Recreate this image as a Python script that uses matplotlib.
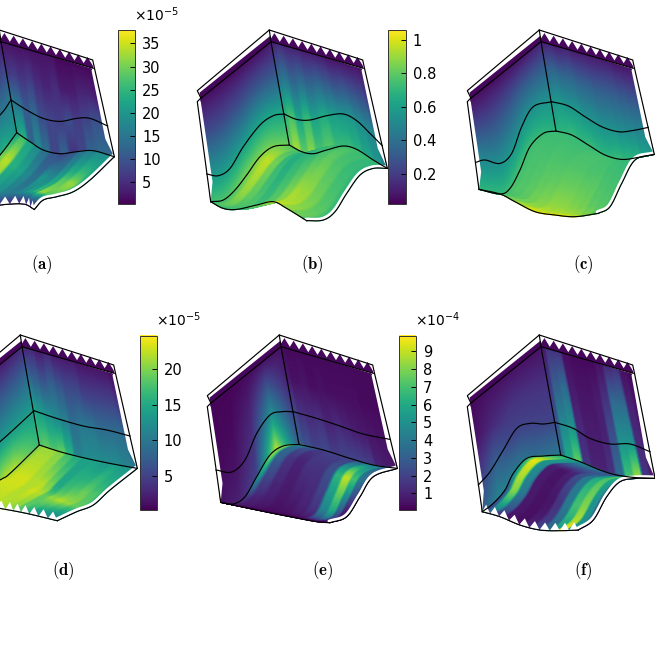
import numpy as np
import matplotlib
matplotlib.use("Agg")
from matplotlib import pyplot as plt
from matplotlib.cm import ScalarMappable
from matplotlib.colors import Normalize

# Section curves of each panel (pixels from the inner top corner)
# low = bottom surface edges, up = interface line, fa/fb = front edges
a_low_l = [(-60.3,165),(-30,145),(-1,113.3),(15.7,91)]
a_low_r = [(15.7,91),(29,100),(42.3,108.3),(59,112),(75.7,110),(92.3,109),(113.3,115)]
a_up_l = [(-64,130),(-30,100),(-1,73.3),(10,58.3)]
a_up_r = [(10,58.3),(25.7,68.3),(42.3,76.7),(59,79.7),(75.7,76.7),(89,76.7),(106.7,84.3)]
a_fa = [(-60.3,165),(-30,168),(-1,163.3),(22.3,162.3),(33.3,167.7)]
a_fb = [(33.3,167.7),(42.3,158.3),(55.7,155),(72.3,150),(89,138.3),(113.3,115)]

b_low_l = [(-60.3,160),(-47.7,158.3),(-36,148.3),(-24.3,133.3),(-11,115),(2.3,105),(18.3,103.3)]
b_low_r = [(18.3,103.3),(30.7,110),(42.3,112),(55.7,108.3),(72.3,104.3),(85.7,107.7),(102.3,118.3),(116.3,126.7)]
b_up_l = [(-64.3,132.3),(-52.7,134),(-41,126.7),(-27.7,105),(-11,83.3),(2.3,74),(13,72.3)]
b_up_r = [(13,72.3),(25.7,77.7),(39,78.3),(55.7,74),(72.3,72.3),(85.7,79),(99,91.7),(111.3,104)]
b_fa = [(-60.3,160),(-47.7,166.7),(-34.3,167.7),(-14.3,163.3),(2.3,160),(15.7,166.7),(35.7,179)]
b_fb = [(35.7,179),(52.3,178.3),(64,170),(75.7,151.7),(89,133.3),(102.3,126.7),(116.3,126.7)]

c_low_l = [(-62,147.7),(-41,152.3),(-31,146.7),(-21,128.3),(-11,105),(2.3,91.7),(15,89.3)]
c_low_r = [(15,89.3),(30.7,93.3),(47.3,103.3),(64,113.3),(80.7,117.7),(97.3,115.7),(113.3,112.7)]
c_up_l = [(-65.3,120.7),(-56,118.3),(-41,121.7),(-29.3,111.7),(-19.3,85),(-7.7,65),(10.7,60)]
c_up_r = [(10.7,60),(27.3,64.3),(44,75),(60.7,85),(77.3,90),(90.7,89),(107.3,85.7)]
c_fa = [(-62,147.7),(-41,152.3),(-26,160),(-6,170),(14,173.3),(34,175),(57.3,171.7)]
c_fb = [(57.3,171.7),(69,165),(80.7,141.7),(94,118.3),(113.3,112.7)]

d_low_l = [(-60,155),(-22,133.3),(-12,126.7),(17.3,98.3)]
d_low_r = [(17.3,98.3),(38,105),(61.3,111),(88,116.7),(115.3,121.7)]
d_up_l = [(-64,130),(-22,95),(12,64)]
d_up_r = [(12,64),(34.7,71.7),(61.3,79.3),(84.7,83.3),(108,89.3)]
d_fa = [(-60,155),(-22,161.7),(4.7,166.7),(35.3,174)]
d_fb = [(35.3,174),(54.7,165),(71.3,158.3),(88,143.3),(115.3,121.7)]

e_low_l = [(-60.3,155.7),(-47.7,157.3),(-36,150),(-24.3,130),(-11,108.3),(2.3,99.3),(18,97.7)]
e_low_r = [(18,97.7),(42.3,103.3),(69,111.7),(92.3,118.3),(116.3,121.7)]
e_up_l = [(-65,123.3),(-49.3,125.3),(-36,113.3),(-24.3,86.7),(-11,68.3),(0.7,65),(12.3,65)]
e_up_r = [(12.3,65),(35.7,71.7),(59,79.3),(82.3,87.3),(109,92.7)]
e_fa = [(-60.3,155.7),(-24.3,163.3),(9,170),(35.7,175),(49,176)]
e_fb = [(49,176),(65.7,170),(79,150),(92.3,130),(116.3,121.7)]

f_low_l = [(-58.7,165),(-47.7,156.7),(-36,143.3),(-27.7,126.7),(-14.3,111.7),(2.3,109.3),(19.7,108.3)]
f_low_r = [(19.7,108.3),(39,115),(59,123.3),(75.7,128.3),(95.7,131),(114,131.7)]
f_up_l = [(-62.7,138.3),(-51,125),(-37.7,103.3),(-24.3,81.7),(-11,76.7),(2.3,77.3),(14,75.7)]
f_up_r = [(14,75.7),(32.3,81.7),(49,91.7),(69,97.3),(89,97.3),(109,105)]
f_fa = [(-58.7,165),(-41,170),(-21,178.3),(-1,183.3),(19,184),(37.3,183.3)]
f_fb = [(37.3,183.3),(52.3,173.3),(65.7,150),(79,135),(95.7,131.7),(114,131.7)]

# Field values, rows go top to bottom on the walls and back to front on the floor
a_left = [[1.5,1.5,1.5,2,2.5],[3,4,5,7,9],[8,10,13,15,16],[14,18,22,24,20]]
a_right = [[2,2,2,2,2,2,2,1,1,1,1,1],[6,7,6,7,5,4,5,3,3,4,4,3],
           [16,15,11,13,9,8,7,9,7,8,10,10],[22,24,12,18,14,8,12,6,8,12,13,13]]
a_floor = [[22,26,22,18,14,10,8,10,14,16,18,20],[30,34,24,22,18,14,20,18,22,28,32,24],
           [24,30,20,18,16,16,18,22,26,32,28,18],[14,14,10,10,8,7,5,4,4,4,4,4]]

b_left = [[.05,.05,.05,.06,.08],[.25,.25,.27,.3,.32],[.5,.52,.55,.6,.62],[.75,.78,.85,.85,.82]]
b_right = [[.1,.14,.12,.12,.1,.1,.1,.08,.08,.08,.08,.07],[.38,.42,.36,.4,.36,.38,.34,.3,.32,.3,.28,.22],
           [.68,.74,.62,.72,.62,.66,.6,.58,.58,.54,.5,.4],[.82,.92,.8,.88,.76,.8,.72,.72,.68,.62,.56,.46]]
b_floor = [[.82,.76,.72,.66,.68,.66,.7,.72,.74,.72,.7,.68],[.9,.96,.84,.72,.66,.7,.72,.76,.8,.76,.72,.7],
           [.8,.88,.8,.76,.72,.78,.86,.92,.9,.84,.78,.72],[.72,.76,.72,.78,.74,.8,.86,.94,.96,.9,.84,.76]]

c_left = [[.05,.05,.06,.08,.12],[.25,.27,.3,.33,.36],[.5,.5,.52,.55,.56],[.7,.72,.75,.72,.68]]
c_right = [[.1,.12,.1,.12,.1,.1,.1,.1,.1,.08,.08,.08],[.36,.38,.36,.37,.35,.35,.33,.33,.32,.3,.28,.26],
           [.56,.58,.56,.57,.54,.54,.52,.52,.5,.48,.46,.44],[.68,.7,.72,.7,.72,.7,.7,.72,.7,.68,.62,.58]]
c_floor = [[.7,.72,.72,.72,.72,.74,.74,.74,.72,.7,.68,.66],[.74,.75,.75,.76,.76,.77,.77,.76,.76,.74,.73,.72],
           [.76,.78,.8,.83,.85,.88,.88,.86,.84,.8,.78,.76],[.72,.74,.78,.84,.92,1.0,1.03,1.03,1.0,.95,.85,.78]]

d_left = [[1,1,1.5,2,3],[6,7,7,8,9],[12,13,13,14,14],[18,20,22,22,17]]
d_right = [[2.5,3,2,3,2,2,2,1.5,1.5,1.5,1.5,1],[9,8,7,8,7,6,6,5,5,5,5,4],
           [15,14,13,12,11,9,10,10,9,9,9,8],[18,19,18,19,16,11,12,12,12,12,11,10]]
d_floor = [[20,21,21,20,17,15,14,14,13,14,13,13],[22,23,23,22,22,20,15,17,18,19,18,16],
           [23,23,23,22,23,22,19,21,22,21,19,15],[22,22,22,22,21,20,18,15,12,11,11,12]]

e_left = [[.2,.2,.3,.5,.5],[.2,.3,1,3,1],[.3,.5,1.5,5.5,2],[.5,1,2,9,3]]
e_right = [[.3,.3,.3,.3,.3,.3,.3,.3,.3,.3,.3,.3],[.8,.5,.6,.4,.5,.4,.4,.4,.4,.3,.3,.3],
           [2.2,1.5,1.3,1.4,1,1.2,1,.8,.7,.6,.5,.4],[3,2.5,2,2.2,1.8,2,2,2,1.8,1,.8,.6]]
e_floor = [[8,4,3,2,2,2,2,3,4,4,3,2],[8,3,1.5,1,1.5,1.5,2.5,6.5,9,7,4,2],
           [1.5,1,.8,.6,.7,1,1.5,4.5,6,3,1,.5],[.3,.3,.2,.2,.2,.2,.2,.3,.3,.3,.2,.2]]

f_left = [[.3,.5,.5,.5,.5],[.5,1.2,1.5,1.5,1.5],[1.5,3,2.2,2,2],[3,4.5,4,3.5,4]]
f_right = [[.7,1.5,1.5,.4,.3,.3,.3,.5,1.2,1.5,.5,.3],[1.5,3,3.5,.8,.6,.6,.8,1.5,3.5,3.5,1,.6],
           [2.5,4.5,5,1.2,.8,.8,1,2.5,5,5,1.2,.7],[3.5,6,7.5,1.5,1,1,1.5,3.5,7,8.5,1.5,.8]]
f_floor = [[6,6,5.5,5,4.5,4,3,2.5,4,8,9,7],[7,9.5,5,.8,.6,1,2.5,4,6,7,6,3],
           [3,8,4,.7,.5,.6,1.5,4,7,8,5,2],[2,3,1.5,.6,.4,1,2,3,5,9.8,5,2]]

# Colour bars
a_range = (0.16, 37.9)
a_ticks = [5, 10, 15, 20, 25, 30, 35]
b_range = (0.016, 1.06)
b_ticks = [0.2, 0.4, 0.6, 0.8, 1]
b_ticklabels = ["0.2", "0.4", "0.6", "0.8", "1"]
d_range = (0.16, 24.8)
d_ticks = [5, 10, 15, 20]
e_range = (0.06, 9.9)
e_ticks = [1, 2, 3, 4, 5, 6, 7, 8, 9]


def smooth(pts, n=80):
    # catmull-rom through the read points
    p = np.array(pts, dtype=float)
    p = np.vstack([2*p[0]-p[1], p, 2*p[-1]-p[-2]])
    t = np.linspace(0, len(p)-3, n)
    i = np.minimum(t.astype(int), len(p)-4)
    s = (t-i)[:, None]
    p0, p1, p2, p3 = p[i], p[i+1], p[i+2], p[i+3]
    return 0.5*(2*p1 + (p2-p0)*s + (2*p0-5*p1+4*p2-p3)*s**2 + (3*p1-p0-3*p2+p3)*s**3)


def upsample(grid, nu, nv, step):
    # take the coarse grid to the drawing mesh, stripes keep a soft edge when step is set
    g = np.array(grid, dtype=float)
    nr, nc = g.shape
    u = np.linspace(0, 1, nu)
    v = np.linspace(0, 1, nv)
    cols = np.linspace(0, 1, nc)
    rows = np.linspace(0, 1, nr)
    if step:
        x = u*(nc-1)
        k = np.floor(x)
        f = np.clip((x-k-0.5)/0.3+0.5, 0, 1)
        su = (k+f)/(nc-1)
    else:
        su = u
    out = np.empty((nv, nu))
    tmp = np.array([np.interp(su, cols, g[r]) for r in range(nr)])
    for j in range(nu):
        out[:, j] = np.interp(v, rows, tmp[:, j])
    return out


def ruled(top, bottom):
    v = np.linspace(0, 1, 50)[:, None, None]
    return (1-v)*top[None, :, :] + v*bottom[None, :, :]


def coons(back, front, side0, side1):
    # back and front run along u, side0 and side1 along v
    nu = len(back)
    nv = len(side0)
    u = np.linspace(0, 1, nu)[None, :, None]
    v = np.linspace(0, 1, nv)[:, None, None]
    s = (1-v)*back[None, :, :] + v*front[None, :, :]
    s = s + (1-u)*side0[:, None, :] + u*side1[:, None, :]
    s = s - ((1-u)*(1-v)*back[0] + u*(1-v)*back[-1] + (1-u)*v*front[0] + u*v*front[-1])
    return s


def draw_panel(ax, org, low_l, low_r, up_l, up_r, fa, fb, left, right, floor, rng, teeth):
    org = np.array(org, dtype=float)
    kw = dict(cmap="viridis", vmin=rng[0], vmax=rng[1], shading="gouraud", rasterized=True)
    I = np.array([0.0, 0.0])
    tl = np.array([-70.3, 56.6])
    tr = np.array([90.5, 27.5])
    s_low_l, s_low_r = smooth(low_l), smooth(low_r)
    s_up_l, s_up_r = smooth(up_l), smooth(up_r)
    s_fa, s_fb = smooth(fa), smooth(fb)
    s = np.linspace(0, 1, 80)[:, None]

    # purple band over the left wall and teeth over the right wall
    dark = plt.get_cmap("viridis")(0.02)
    ax.fill(*(org + np.array([tl, I, (-0.5, -6), (-71.5, 51)])).T, color=dark, lw=0)
    nt = 10
    w = np.linspace(0, 1, 2*nt+1)[:, None]
    zig = I + w*(np.array([92.3, 26.6]) - I) + np.array([-0.4, -2.5])
    zig[1::2] += np.array([-0.8, -7.5])
    zig = np.vstack([I, zig, (92.3, 26.6)])
    ax.fill(*(org + zig).T, color=dark, lw=0)

    # walls
    P = ruled(tl + s*(I-tl), s_low_l) + org
    ax.pcolormesh(P[..., 0], P[..., 1], upsample(left, 80, 50, False), **kw)
    P = ruled(I + s*(tr-I), s_low_r) + org
    ax.pcolormesh(P[..., 0], P[..., 1], upsample(right, 80, 50, True), **kw)
    # floor
    P = coons(s_low_r, s_fa, s_low_l[::-1], s_fb[::-1]) + org
    ax.pcolormesh(P[..., 0], P[..., 1], upsample(floor, 80, 80, True), **kw)

    if teeth:
        k = np.linspace(0, len(s_fa)-1, 2*teeth+1).astype(int)
        for j in range(teeth):
            p0, p1 = s_fa[k[2*j]], s_fa[k[2*j+2]]
            tip = s_fa[k[2*j+1]] + np.array([0.5, -8.0])
            ax.fill(*(org + np.array([p0, tip, p1])).T, color="white", lw=0, zorder=3)

    # white gaps inside the frame, wedges that run out at the corners
    ln = dict(color="white", lw=2.2, zorder=3, solid_capstyle="round")
    ax.plot(*(org + s_fb + np.array([-1.0, -1.5])).T, **ln)
    t = s_low_r[-1]
    bl = s_low_l[0]
    fr = np.array([93.5, 26.6])
    fl = np.array([-73.7, 60.0])
    wedge = np.array([fr, t, fr + 0.8*(t-fr) + (-5, 0), fr + (-3, 2)])
    ax.fill(*(org + wedge).T, color="white", lw=0, zorder=3)
    wedge = np.array([fl, bl, fl + 0.8*(bl-fl) + (4.5, 0), fl + (3.5, 0)])
    ax.fill(*(org + wedge).T, color="white", lw=0, zorder=3)

    # frame
    blk = dict(color="black", lw=0.85, zorder=4, solid_joinstyle="miter")
    outer = np.array([(-70.3, 56), (-73.7, 49), (-1.7, -11.7), (91.7, 18.3), fr, t])
    ax.plot(*(org + outer).T, **blk)
    ax.plot(*(org + np.array([(-70.3, 56.5), fl, bl])).T, **blk)
    ax.plot(*(org + np.array([tl, I, (92.3, 26.6)])).T, **blk)
    ax.plot(*(org + np.array([(-1.7, -11.7), I, s_low_r[0]])).T, **blk)
    ax.plot(*(org + s_low_l).T, **blk)
    ax.plot(*(org + s_low_r).T, **blk)
    ax.plot(*(org + s_up_l).T, **blk)
    ax.plot(*(org + s_up_r).T, **blk)
    ax.plot(*(org + s_fa).T, **blk)
    ax.plot(*(org + s_fb).T, **blk)


def add_bar(fig, x0, y0, rng, ticks, labels=None, power=None):
    W, H = fig.get_size_inches()*fig.dpi
    cax = fig.add_axes([x0/W, 1-(y0+174.5)/H, 17.3/W, 174.5/H])
    cb = fig.colorbar(ScalarMappable(Normalize(*rng), "viridis"), cax=cax)
    cb.set_ticks(ticks)
    if labels:
        cb.set_ticklabels(labels)
    cax.tick_params(direction="in", length=3.5, width=0.7, labelsize=10.5, pad=5, right=True, left=False)
    cb.outline.set_linewidth(0.7)
    cb.outline.set_edgecolor("#333333")
    if power:
        fig.text((x0+16)/W, 1-(y0-9)/H, r"$\times 10^{%d}$" % power, fontsize=10,
                 math_fontfamily="dejavusans", ha="left", va="baseline")


fig = plt.figure(figsize=(6.55, 6.55), dpi=100)
ax = fig.add_axes([0, 0, 1, 1])
ax.set_xlim(0, 655)
ax.set_ylim(655, 0)
ax.axis("off")

draw_panel(ax, (1, 41.7), a_low_l, a_low_r, a_up_l, a_up_r, a_fa, a_fb, a_left, a_right, a_floor, a_range, 10)
draw_panel(ax, (271, 41.7), b_low_l, b_low_r, b_up_l, b_up_r, b_fa, b_fb, b_left, b_right, b_floor, b_range, 0)
draw_panel(ax, (541, 41.7), c_low_l, c_low_r, c_up_l, c_up_r, c_fa, c_fb, c_left, c_right, c_floor, b_range, 0)
draw_panel(ax, (22, 346.7), d_low_l, d_low_r, d_up_l, d_up_r, d_fa, d_fb, d_left, d_right, d_floor, d_range, 10)
draw_panel(ax, (281, 346.7), e_low_l, e_low_r, e_up_l, e_up_r, e_fa, e_fb, e_left, e_right, e_floor, e_range, 0)
draw_panel(ax, (541, 346.7), f_low_l, f_low_r, f_up_l, f_up_r, f_fa, f_fb, f_left, f_right, f_floor, e_range, 10)

add_bar(fig, 117.7, 30, a_range, a_ticks, power=-5)
add_bar(fig, 388.3, 30, b_range, b_ticks, labels=b_ticklabels)
add_bar(fig, 139.5, 335.5, d_range, d_ticks, power=-5)
add_bar(fig, 399, 335.5, e_range, e_ticks, power=-4)

# captions
for x, y, s in [(42, 265, "a"), (312, 265, "b"), (583, 265, "c"), (63, 571, "d"), (323, 571, "e"), (583, 571, "f")]:
    ax.text(x, y, r"$\mathbf{(%s)}$" % s, fontsize=12, math_fontfamily="cm", ha="center", va="center")

fig.savefig("out.png", dpi=100)
